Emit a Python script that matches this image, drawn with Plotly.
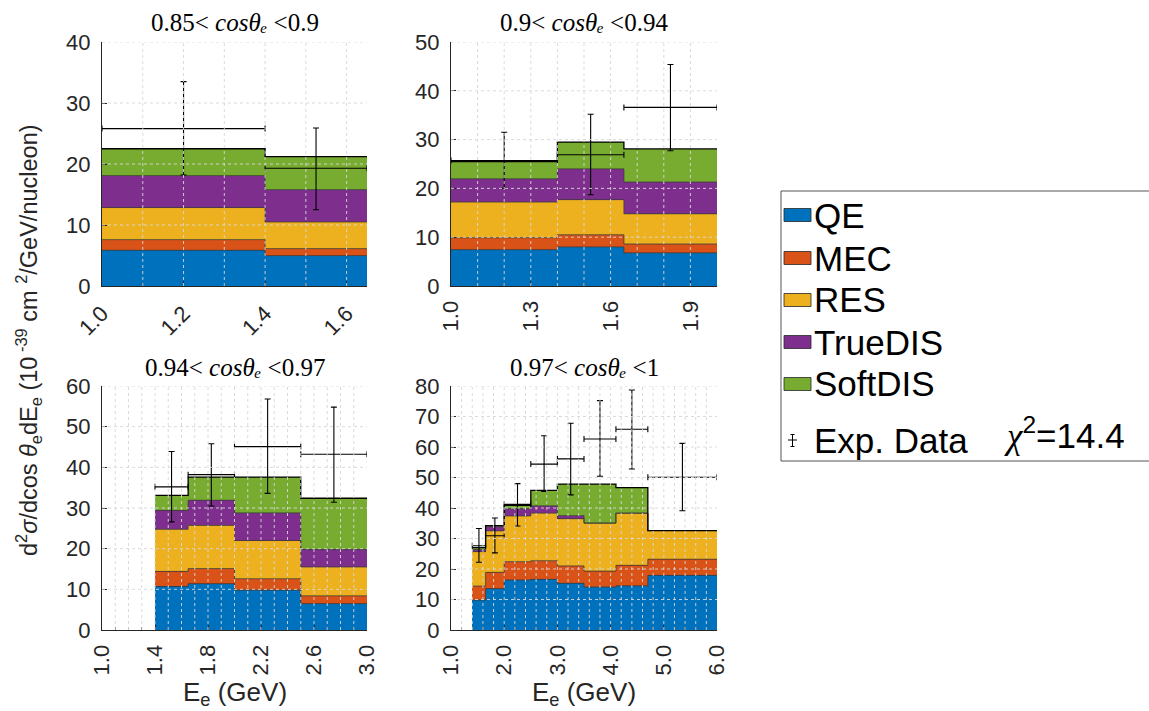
import plotly.graph_objects as go

W, H = 1149, 711

# ---------------- data ----------------
components = ["QE", "MEC", "RES", "TrueDIS", "SoftDIS"]
colors = ["#0072BD", "#D95319", "#EDB120", "#7E2F8E", "#77AC30"]

titles = ["0.85&lt; <i>cosθₑ</i> &lt;0.9",
          "0.9&lt; <i>cosθₑ</i> &lt;0.94",
          "0.94&lt; <i>cosθₑ</i> &lt;0.97",
          "0.97&lt; <i>cosθₑ</i> &lt;1"]

# panel 1 : 0.85 < cos < 0.9
edges_1 = [1.0, 1.4, 1.65]
qe_1 = [5.85, 4.98]
mec_1 = [1.75, 1.15]
res_1 = [5.26, 4.37]
tdis_1 = [5.24, 5.3]
sdis_1 = [4.4, 5.4]
data_1 = [25.8, 19.3]
hi_1 = [33.5, 25.9]
lo_1 = [18.2, 12.5]

# panel 2 : 0.9 < cos < 0.94
edges_2 = [1.0, 1.4, 1.65, 2.0]
qe_2 = [7.46, 8.0, 6.8]
mec_2 = [2.44, 2.5, 1.8]
res_2 = [7.3, 7.2, 6.2]
tdis_2 = [4.76, 6.3, 6.5]
sdis_2 = [3.54, 5.5, 6.8]
data_2 = [25.7, 26.9, 36.6]
hi_2 = [31.5, 35.2, 45.4]
lo_2 = [20.0, 18.7, 27.7]

# panel 3 : 0.94 < cos < 0.97
edges_3 = [1.4, 1.65, 2.0, 2.5, 3.0]
qe_3 = [10.7, 11.4, 9.8, 6.5]
mec_3 = [3.7, 3.7, 2.8, 1.9]
res_3 = [10.35, 10.6, 9.4, 7.1]
tdis_3 = [4.65, 6.2, 6.8, 4.3]
sdis_3 = [3.7, 5.7, 8.8, 12.6]
data_3 = [35.2, 38.2, 45.1, 43.2]
hi_3 = [43.9, 45.8, 56.8, 54.8]
lo_3 = [26.6, 30.5, 33.6, 31.4]

# panel 4 : 0.97 < cos < 1
edges_4 = [1.4, 1.65, 2.0, 2.5, 3.0, 3.5, 4.1, 4.7, 6.0]
qe_4 = [9.8, 13.6, 16.4, 16.6, 15.3, 14.1, 14.5, 17.9]
mec_4 = [4.6, 5.3, 6.0, 6.1, 5.7, 5.2, 6.7, 5.3]
res_4 = [11.3, 13.6, 15.0, 15.6, 15.5, 15.75, 17.1, 9.4]
tdis_4 = [0.7, 1.4, 2.4, 2.4, 1.0, 0.0, 0.0, 0.0]
sdis_4 = [0.6, 0.3, 1.1, 5.1, 10.3, 12.75, 8.4, 0.0]
data_4 = [27.6, 30.9, 41.2, 54.4, 56.1, 62.6, 65.8, 50.1]
hi_4 = [33.3, 36.7, 48.0, 63.7, 67.8, 75.2, 78.7, 61.2]
lo_4 = [22.2, 25.3, 34.1, 45.4, 44.3, 50.4, 52.8, 39.1]

chi2_text = "<span style='font-family:Liberation Serif, serif'><i>χ</i></span><sup>2</sup>=14.4"

# axis settings per panel
x_ranges = [[1.0, 1.65], [1.0, 2.0], [1.0, 3.0], [1.0, 6.0]]
x_dticks = [0.2, 0.3, 0.4, 1.0]
x_minor = [0.1, 0.1, 0.1, 0.2]
y_maxes = [40, 50, 60, 80]

panels = [
    (edges_1, [qe_1, mec_1, res_1, tdis_1, sdis_1], data_1, hi_1, lo_1),
    (edges_2, [qe_2, mec_2, res_2, tdis_2, sdis_2], data_2, hi_2, lo_2),
    (edges_3, [qe_3, mec_3, res_3, tdis_3, sdis_3], data_3, hi_3, lo_3),
    (edges_4, [qe_4, mec_4, res_4, tdis_4, sdis_4], data_4, hi_4, lo_4),
]

# ---------------- layout geometry (window pixels) ----------------
def px(x):
    return x / W

def py(y):
    return 1 - y / H

col_px = [(102, 367), (451, 717)]
row_px = [(42, 286), (386, 630)]
pos = [(0, 0), (1, 0), (0, 1), (1, 1)]

AX = "#262626"
SANS = "Liberation Sans, Arial, sans-serif"
TICKFONT = dict(family=SANS, size=22, color=AX)
GRID = dict(color="rgba(215,215,215,0.9)", width=1, dash="dot")

fig = go.Figure()
shapes = []
annotations = []

for i, (edges, comps, dat, hi, lo) in enumerate(panels):
    k = "" if i == 0 else str(i + 1)
    xa, ya = "x" + k, "y" + k
    centers = [(edges[j] + edges[j + 1]) / 2 for j in range(len(edges) - 1)]
    widths = [edges[j + 1] - edges[j] for j in range(len(edges) - 1)]

    for name, col, vals in zip(components, colors, comps):
        fig.add_trace(go.Bar(x=centers, y=vals, width=widths, marker=dict(color=col, line=dict(width=0)),
                             xaxis=xa, yaxis=ya, showlegend=False, name=name))
    # boundary step lines
    cum = [0.0] * len(centers)
    for n, vals in enumerate(comps):
        cum = [c + v for c, v in zip(cum, vals)]
        last = n == len(comps) - 1
        fig.add_trace(go.Scatter(x=edges, y=cum + [cum[-1]], mode="lines", line_shape="hv",
                                 line=dict(color="#000000" if last else "#3a3a3a", width=1.3 if last else 0.8),
                                 xaxis=xa, yaxis=ya, showlegend=False, hoverinfo="skip"))
    # experimental data
    fig.add_trace(go.Scatter(
        x=centers, y=dat, mode="markers",
        marker=dict(size=1, color="rgba(0,0,0,0)"),
        error_x=dict(type="data", array=[w / 2 for w in widths], color="black", thickness=1.1, width=3),
        error_y=dict(type="data", array=[h - d for h, d in zip(hi, dat)],
                     arrayminus=[d - l for d, l in zip(dat, lo)], color="black", thickness=1.1, width=3),
        xaxis=xa, yaxis=ya, showlegend=False, name="Exp. Data"))

    c, r = pos[i]
    x0p, x1p = col_px[c]
    y0p, y1p = row_px[r]
    bottom = r == 1
    fig.update_layout({
        "xaxis" + k: dict(domain=[px(x0p), px(x1p)], anchor=ya, range=x_ranges[i],
                          tick0=1.0, dtick=x_dticks[i], tickformat=".1f",
                          tickangle=-45 if i == 0 else -90,
                          showline=True, linecolor=AX, linewidth=1, ticks="inside", ticklen=5,
                          tickcolor=AX, tickfont=TICKFONT, showgrid=False, zeroline=False,
                          layer="above traces", automargin=False, ticklabelstandoff=5,
                          minor=dict(dtick=x_minor[i], ticks="inside", ticklen=3, tickcolor=AX, showgrid=False)),
        "yaxis" + k: dict(domain=[py(y1p), py(y0p)], anchor=xa, range=[0, y_maxes[i]], dtick=10,
                          showline=True, linecolor=AX, linewidth=1, ticks="inside", ticklen=5,
                          tickcolor=AX, tickfont=TICKFONT, showgrid=False, zeroline=False,
                          layer="above traces", automargin=False, ticklabelstandoff=6),
    })
    # dotted grid on top of the stacked areas
    g = x_ranges[i][0] + x_minor[i]
    while g < x_ranges[i][1] - 1e-9:
        shapes.append(dict(type="line", xref=xa, yref=ya + " domain", x0=g, x1=g, y0=0, y1=1,
                           line=GRID, layer="above"))
        g += x_minor[i]
    for yv in range(10, y_maxes[i] + 1, 10):
        shapes.append(dict(type="line", xref=xa + " domain", yref=ya, x0=0, x1=1, y0=yv, y1=yv,
                           line=GRID, layer="above"))
    # panel title
    annotations.append(dict(text=titles[i], xref="paper", yref="paper",
                            x=px((x0p + x1p) / 2), y=py(y0p - 19), xanchor="center", yanchor="middle",
                            borderpad=0,
                            showarrow=False, font=dict(family="Liberation Serif, serif", size=25, color="black")))
    if bottom:
        annotations.append(dict(text="E<sub>e</sub> (GeV)", xref="paper", yref="paper",
                                x=px((x0p + x1p) / 2), y=py(693), xanchor="center", yanchor="middle",
                                showarrow=False, font=dict(family=SANS, size=26, color=AX)))

# y-axis label
annotations.append(dict(text="d<sup>2</sup><i>σ</i>/dcos <i>θ</i><sub>e</sub>dE<sub>e</sub> (10<sup> -39</sup> cm <sup>2</sup>/GeV/nucleon)",
                        xref="paper", yref="paper", x=px(28), y=py(340), xanchor="center", yanchor="middle",
                        textangle=-90, showarrow=False,
                        font=dict(family=SANS, size=23.5, color=AX)))

# legend (drawn): box open to the right edge of the picture
LEGLINE = dict(color="#555555", width=1)
shapes.append(dict(type="rect", xref="paper", yref="paper", x0=px(781), x1=1.0, y0=py(191), y1=py(461),
                   line=dict(width=0), fillcolor="white", layer="above"))
for (a, b, c_, d) in [(781, 191, 1160, 191), (781, 461, 1160, 461), (781, 191, 781, 461)]:
    shapes.append(dict(type="line", xref="paper", yref="paper", x0=px(a), y0=py(b), x1=px(c_), y1=py(d),
                       line=LEGLINE, layer="above"))
leg_y = [215, 258, 300, 342, 384]
for name, col, yy in zip(components, colors, leg_y):
    shapes.append(dict(type="rect", xref="paper", yref="paper", x0=px(784), x1=px(811),
                       y0=py(yy + 6.5), y1=py(yy - 6.5), fillcolor=col,
                       line=dict(color="#262626", width=0.8), layer="above"))
    annotations.append(dict(text=name, xref="paper", yref="paper", x=px(812), y=py(yy),
                            xanchor="left", yanchor="middle", showarrow=False,
                            font=dict(family=SANS, size=35, color="black")))
# data symbol in legend
for (a, b, c_, d) in [(788, 440, 797, 440), (792.5, 434.5, 792.5, 446.5),
                      (790.5, 434.5, 794.5, 434.5), (790.5, 446.5, 794.5, 446.5)]:
    shapes.append(dict(type="line", xref="paper", yref="paper", x0=px(a), y0=py(b), x1=px(c_), y1=py(d),
                       line=dict(color="black", width=1), layer="above"))
annotations.append(dict(text="Exp. Data", xref="paper", yref="paper", x=px(812), y=py(440),
                        xanchor="left", yanchor="middle", showarrow=False,
                        font=dict(family=SANS, size=35, color="black")))
annotations.append(dict(text=chi2_text, xref="paper", yref="paper", x=px(1002), y=py(433),
                        xanchor="left", yanchor="middle", showarrow=False,
                        font=dict(family=SANS, size=35, color="black")))

fig.update_layout(width=W, height=H, margin=dict(l=0, r=0, t=0, b=0),
                  paper_bgcolor="white", plot_bgcolor="white", barmode="stack", bargap=0,
                  showlegend=False, shapes=shapes, annotations=annotations)

fig.write_html("out.html", config={"displayModeBar": False},
               post_script="document.body.style.margin='0';document.body.style.overflow='hidden';")
